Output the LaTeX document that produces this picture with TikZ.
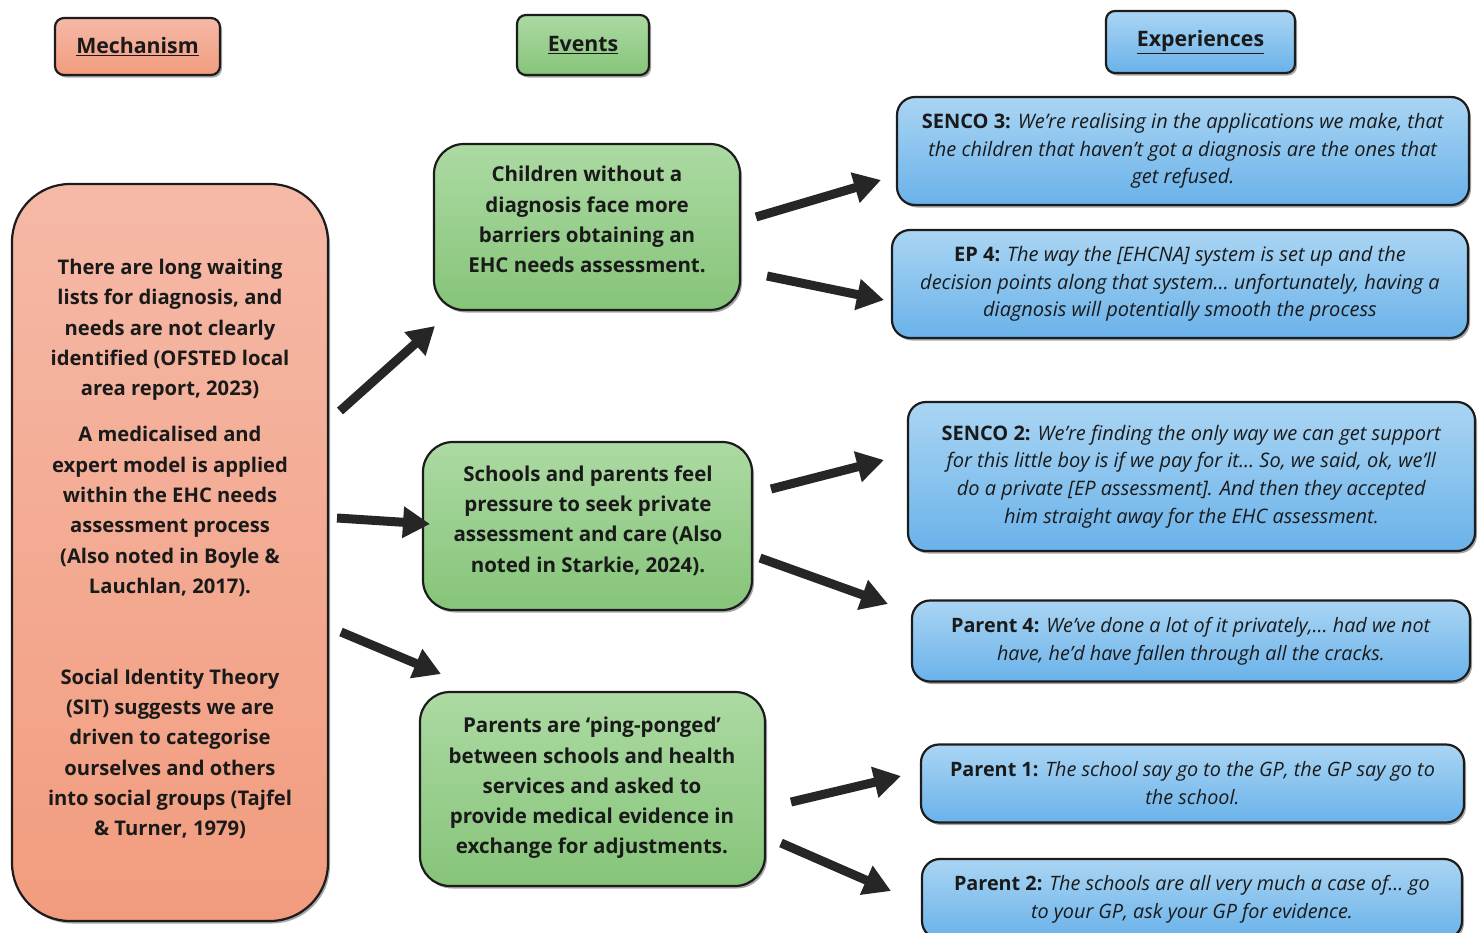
\documentclass[tikz,border=0pt]{standalone}
\usepackage{fontspec}
\setmainfont{Open Sans}
\usetikzlibrary{arrows.meta,shadows}

\definecolor{salTop}{HTML}{F5B9A7}
\definecolor{salBot}{HTML}{F29C7E}
\definecolor{grnTop}{HTML}{ACDAA3}
\definecolor{grnBot}{HTML}{86C479}
\definecolor{bluTop}{HTML}{AAD5F3}
\definecolor{bluBot}{HTML}{6AB2EA}
\definecolor{edge}{HTML}{1C1C1C}
\definecolor{ink}{HTML}{1A1A1A}
\definecolor{arrowc}{HTML}{262626}

\tikzset{
  box/.style={draw=edge, line width=2.2pt, align=center, text=ink, inner sep=0pt,
    drop shadow={shadow xshift=2pt, shadow yshift=-2.5pt, opacity=0.35, fill=black}},
  salbox/.style={box, top color=salTop, bottom color=salBot},
  grnbox/.style={box, top color=grnTop, bottom color=grnBot, rounded corners=30pt},
  grntext/.style={align=center, text=ink, font=\fontsize{20.5}{30.3}\selectfont\bfseries},
  blubox/.style={box, top color=bluTop, bottom color=bluBot, rounded corners=18pt,
    font=\fontsize{20}{27.8}\selectfont},
  parbox/.style={blubox, font=\fontsize{19.8}{27.8}\selectfont},
  headbox/.style={rounded corners=9pt, font=\fontsize{21.3}{24}\selectfont\bfseries},
  mechtext/.style={align=center, text=ink, font=\fontsize{20.2}{30.3}\selectfont\bfseries},
  flow/.style={line width=9pt, draw=arrowc, -{Triangle[width=30pt,length=27pt]}},
}

\begin{document}
\begin{tikzpicture}[x=1pt, y=-1pt]
\useasboundingbox (0,0) rectangle (1481,932);

% column headers
\node[salbox, headbox, minimum width=165pt, minimum height=57pt] (hmech) at (137.5,46.5) {\underline{Mechanism}};
\node[box, top color=grnTop, bottom color=grnBot, headbox, minimum width=132pt, minimum height=60pt] (hevt) at (583,45) {\underline{Events}};
\node[box, top color=bluTop, bottom color=bluBot, headbox, minimum width=189pt, minimum height=62pt] (hexp) at (1200.5,42) {\underline{Experiences}};

% mechanism column
\node[salbox, rounded corners=58pt, minimum width=316pt, minimum height=737pt] (mech) at (170,552.5) {};
\node[mechtext] (m1) at (170,330) {There are long waiting\\lists for diagnosis, and\\needs are not clearly\\identified (OFSTED local\\area report, 2023)};
\node[mechtext] (m2) at (170,511.5) {A medicalised and\\expert model is applied\\within the EHC needs\\assessment process\\(Also noted in Boyle \&\\Lauchlan, 2017).};
\node[mechtext] (m3) at (170,754) {Social Identity Theory\\(SIT) suggests we are\\driven to categorise\\ourselves and others\\into social groups (Tajfel\\\& Turner, 1979)};

% events column
\node[grnbox, minimum width=306pt, minimum height=166pt] (e1) at (587,227) {};
\node[grntext] (e1t) at (587,219.5) {Children without a\\diagnosis face more\\barriers obtaining an\\EHC needs assessment.};
\node[grnbox, minimum width=329pt, minimum height=168pt] (e2) at (587.5,526) {};
\node[grntext] (e2t) at (588,520.5) {Schools and parents feel\\pressure to seek private\\assessment and care (Also\\noted in Starkie, 2024).};
\node[grnbox, minimum width=345pt, minimum height=194pt] (e3) at (592.5,789) {};
\node[grntext] (e3t) at (592,788) {Parents are `ping-ponged'\\between schools and health\\services and asked to\\provide medical evidence in\\exchange for adjustments.};

% experiences column
\node[blubox, minimum width=572pt, minimum height=108pt] (x1) at (1183,151) {\textbf{SENCO 3:} \textit{We're realising in the applications we make, that}\\\textit{the children that haven't got a diagnosis are the ones that}\\\textit{get refused.}};
\node[blubox, minimum width=576pt, minimum height=108pt] (x2) at (1180,284) {\textbf{EP 4:} \textit{The way the [EHCNA] system is set up and the}\\\textit{decision points along that system\ldots\ unfortunately, having a}\\\textit{diagnosis will potentially smooth the process}};
\node[blubox, minimum width=567pt, minimum height=149pt] (x3) at (1191.5,476.5) {\textbf{SENCO 2:} \textit{We're finding the only way we can get support}\\\textit{for this little boy is if we pay for it\ldots\ So, we said, ok, we'll}\\\textit{do a private [EP assessment]. And then they accepted}\\\textit{him straight away for the EHC assessment.}};
\node[parbox, minimum width=558pt, minimum height=81pt] (x4) at (1191,641) {\textbf{Parent 4:} \textit{We've done a lot of it privately,\ldots\ had we not}\\\textit{have, he'd have fallen through all the cracks.}};
\node[parbox, minimum width=543pt, minimum height=78pt] (x5) at (1192.5,783.5) {\textbf{Parent 1:} \textit{The school say go to the GP, the GP say go to}\\\textit{the school.}};
\node[parbox, minimum width=540pt, minimum height=80pt] (x6) at (1192,899) {\textbf{Parent 2:} \textit{The schools are all very much a case of\ldots\ go}\\\textit{to your GP, ask your GP for evidence.}};

% free-floating arrow ends
\coordinate (a1s) at (340,411);  \coordinate (a1e) at (435,326);
\coordinate (a2s) at (337,518);  \coordinate (a2e) at (430,524);
\coordinate (a3s) at (341,632);  \coordinate (a3e) at (441,674);
\coordinate (b1s) at (756,217);  \coordinate (b1e) at (881,180);
\coordinate (b2s) at (767,276);  \coordinate (b2e) at (884,300);
\coordinate (b3s) at (771,489);  \coordinate (b3e) at (884,460);
\coordinate (b4s) at (760,558);  \coordinate (b4e) at (888,604);
\coordinate (b5s) at (791,802);  \coordinate (b5e) at (901,776);
\coordinate (b6s) at (781,843);  \coordinate (b6e) at (891,891);

\draw[flow] (a1s) -- (a1e);
\draw[flow] (a2s) -- (a2e);
\draw[flow] (a3s) -- (a3e);
\draw[flow] (b1s) -- (b1e);
\draw[flow] (b2s) -- (b2e);
\draw[flow] (b3s) -- (b3e);
\draw[flow] (b4s) -- (b4e);
\draw[flow] (b5s) -- (b5e);
\draw[flow] (b6s) -- (b6e);
\end{tikzpicture}
\end{document}
